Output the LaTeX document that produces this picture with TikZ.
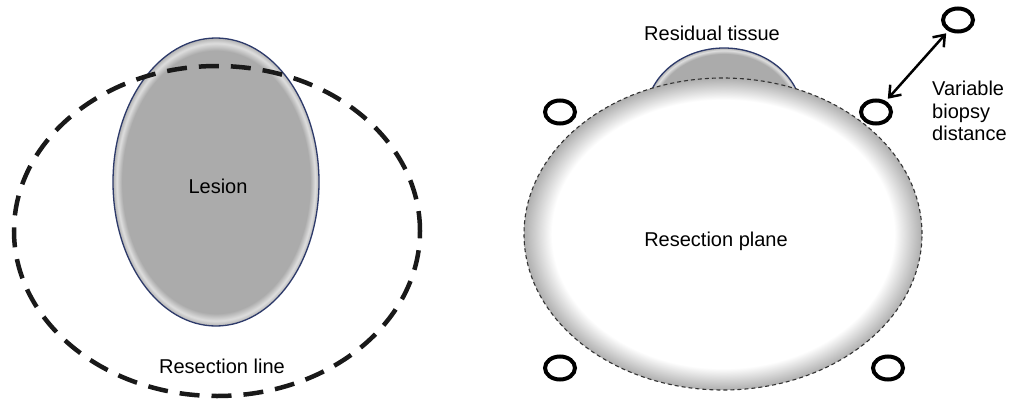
\documentclass[tikz,border=0pt]{standalone}
\usepackage{fontspec}
\setmainfont{Liberation Sans}
\usetikzlibrary{shapes.geometric,arrows.meta}
\pgfdeclareradialshading{planeshade}{\pgfpoint{0bp}{0bp}}{color(0bp)=(white); color(21.5bp)=(white); color(25.5bp)=(black!36); color(50bp)=(black!36)}
\pgfdeclareradialshading{lesionshade}{\pgfpoint{0bp}{0bp}}{color(0bp)=(black!33); color(22.8bp)=(black!33); color(24.1bp)=(black!13); color(25.5bp)=(black!40); color(50bp)=(black!40)}
\definecolor{rimblue}{RGB}{45,58,106}
\tikzset{
  lbl/.style={font=\fontsize{20}{22.5}\selectfont, inner sep=0pt},
  lesionbody/.style={ellipse, inner sep=0pt, draw=rimblue, line width=1.3pt, shading=lesionshade},
  planebody/.style={ellipse, inner sep=0pt, draw=black!80, line width=1.1pt, dash pattern=on 4pt off 3pt, shading=planeshade},
  resline/.style={ellipse, inner sep=0pt, draw=black!90, line width=4.5pt, dash pattern=on 20pt off 12pt},
  biopsy/.style={ellipse, inner sep=0pt, draw=black, line width=4pt, minimum width=30pt, minimum height=23pt},
}
\begin{document}
\begin{tikzpicture}[x=1pt,y=-1pt]
\useasboundingbox (0,0) rectangle (1015,407);
% left panel
\node[lesionbody, minimum width=206pt, minimum height=288pt] (lesion) at (216,182) {};
\node[resline, minimum width=406pt, minimum height=330pt] (rline) at (217,231) {};
\node[lbl] (lesiontxt) at (218,186) {Lesion};
\node[lbl] (rlinetxt) at (222,366) {Resection line};
% right panel
\node[lesionbody, minimum width=156pt, minimum height=134pt] (resid) at (724,115) {};
\node[planebody, minimum width=398pt, minimum height=312pt] (plane) at (723,234) {};
\node[lbl] (residtxt) at (712,33) {Residual tissue};
\node[lbl] (planetxt) at (716,241) {Resection plane};
\node[biopsy] (c1) at (560,112) {};
\node[biopsy] (c2) at (876,112) {};
\node[biopsy] (c3) at (958,20) {};
\node[biopsy] (c4) at (560,368) {};
\node[biopsy] (c5) at (888,368) {};
\draw[line width=2.5pt, {Straight Barb[length=10pt,width=15pt]}-{Straight Barb[length=10pt,width=15pt]}, shorten <=3pt, shorten >=3pt] (c2) -- (c3);
\node[lbl, align=left, anchor=north west] (vartxt) at (932,81) {Variable\\biopsy\\distance};
\end{tikzpicture}
\end{document}
